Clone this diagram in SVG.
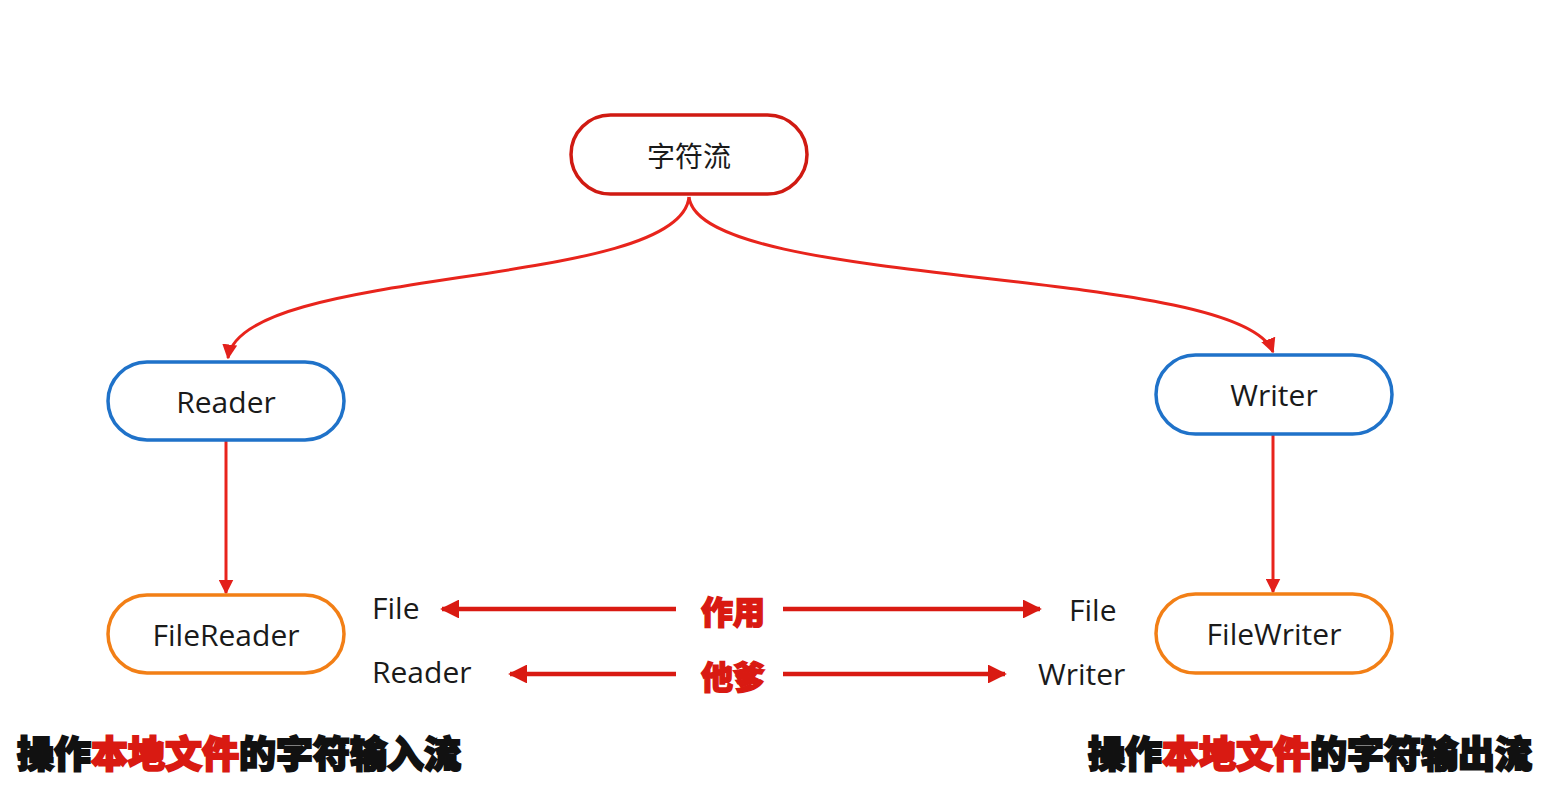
<svg xmlns="http://www.w3.org/2000/svg" width="1556" height="799" viewBox="0 0 1556 799">
<defs>
<marker id="ah" viewBox="0 0 10 10" refX="9" refY="5" markerWidth="5" markerHeight="5" orient="auto-start-reverse" markerUnits="strokeWidth">
<path d="M0,0 L10,5 L0,10 Z" fill="#e3201b"/>
</marker>
<marker id="ah2" viewBox="0 0 10 10" refX="9" refY="5" markerWidth="4.2" markerHeight="4.2" orient="auto-start-reverse" markerUnits="strokeWidth">
<path d="M0,0 L10,5 L0,10 Z" fill="#d91a12"/>
</marker>
<style>
.node rect{fill:#fff;stroke-width:3.5}
.red rect{stroke:#d01a12}
.blue rect{stroke:#1f72c9}
.orange rect{stroke:#f27f16}
.lbl{font-family:"Open Sans","Noto Sans","Noto Sans CJK SC",sans-serif;font-size:30px;fill:#1a1a1a;text-anchor:middle;dominant-baseline:central}
.zh{font-family:"Noto Sans CJK SC",sans-serif;font-size:28px}
.side{font-family:"Open Sans","Noto Sans",sans-serif;font-size:30px;fill:#1a1a1a}
.conn{fill:none;stroke:#e8241c;stroke-width:3;marker-end:url(#ah)}
.harr{fill:none;stroke:#d91a12;stroke-width:4.5;marker-end:url(#ah2)}
.mid{font-family:"Noto Sans CJK SC",sans-serif;font-weight:900;font-size:32px;fill:#d91a12;stroke:#d91a12;stroke-width:1.5;text-anchor:middle}
.cap{font-family:"Noto Sans CJK SC",sans-serif;font-weight:900;font-size:37px;fill:#111;stroke:#111;stroke-width:2}
.cap .hl{fill:#d91a12;stroke:#d91a12}
</style>
</defs>
<rect width="1556" height="799" fill="#fff"/>
<g id="connectors">
<path class="conn" d="M689,197 C680,290 240,265 228,358"/>
<path class="conn" d="M689,197 C700,290 1240,265 1273,352"/>
<path class="conn" d="M226,441 L226,593"/>
<path class="conn" d="M1273,435 L1273,592"/>
<path class="harr" d="M676,609 L442,609"/>
<path class="harr" d="M783,609 L1040,609"/>
<path class="harr" d="M676,674 L510,674"/>
<path class="harr" d="M783,674 L1005,674"/>
</g>
<g id="n-char" class="node red"><rect x="571" y="115" width="236" height="79" rx="39.5"/><text class="lbl zh" x="689" y="155">字符流</text></g>
<g id="n-reader" class="node blue"><rect x="108" y="362" width="236" height="78" rx="39"/><text class="lbl" x="226" y="401">Reader</text></g>
<g id="n-writer" class="node blue"><rect x="1156" y="355" width="236" height="79" rx="39.5"/><text class="lbl" x="1274" y="394">Writer</text></g>
<g id="n-filereader" class="node orange"><rect x="108" y="595" width="236" height="78" rx="39"/><text class="lbl" x="226" y="634">FileReader</text></g>
<g id="n-filewriter" class="node orange"><rect x="1156" y="594" width="236" height="79" rx="39.5"/><text class="lbl" x="1274" y="633">FileWriter</text></g>
<g id="labels">
<text class="side" x="372" y="619">File</text>
<text class="side" x="372" y="683">Reader</text>
<text class="side" x="1069" y="621">File</text>
<text class="side" x="1038" y="685">Writer</text>
<text class="mid" x="733" y="624">作用</text>
<text class="mid" x="733" y="689">他爹</text>
<text class="cap" x="17" y="768">操作<tspan class="hl">本地文件</tspan>的字符输入流</text>
<text class="cap" x="1088" y="768">操作<tspan class="hl">本地文件</tspan>的字符输出流</text>
</g>
</svg>
